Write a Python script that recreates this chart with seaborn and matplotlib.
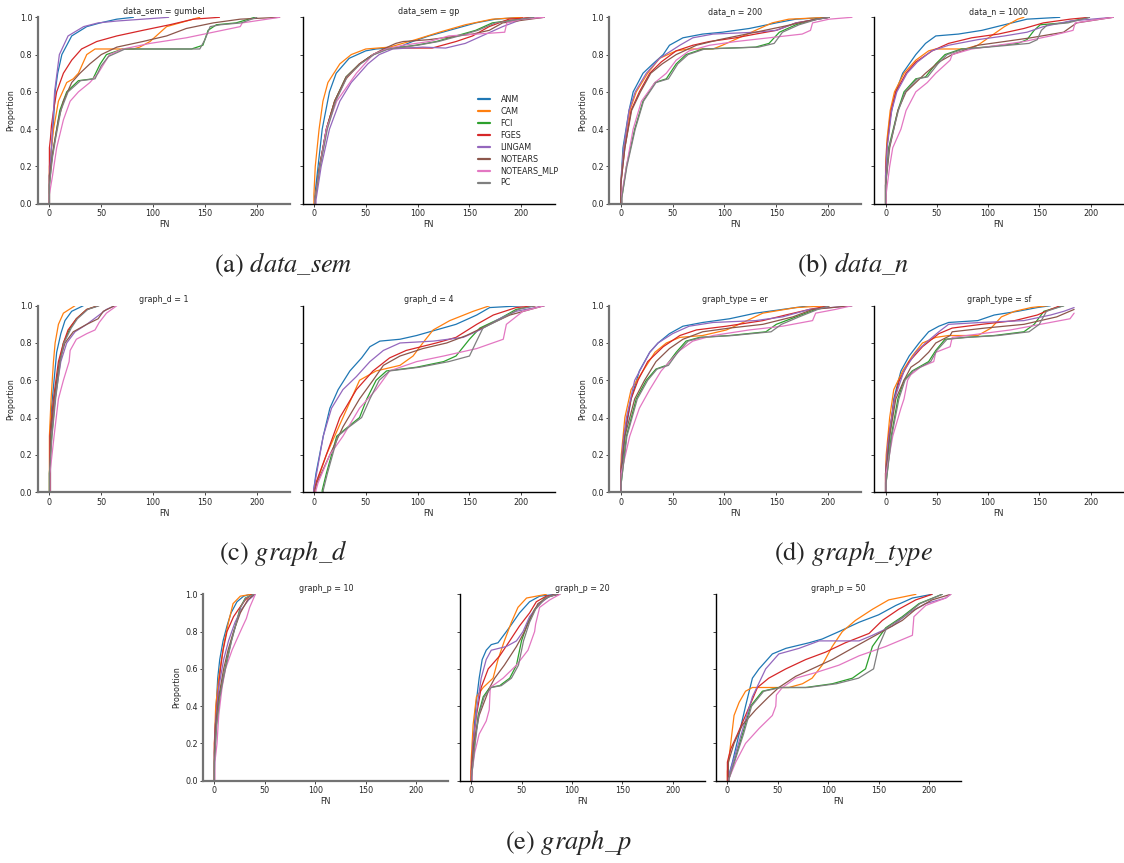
import pandas as pd
import seaborn as sns
import matplotlib.pyplot as plt
from matplotlib.lines import Line2D

# Metodos y colores (orden de la leyenda)
METHODS = ["ANM", "CAM", "FCI", "FGES", "LINGAM", "NOTEARS", "NOTEARS_MLP", "PC"]
X_TICKS = [0, 50, 100, 150, 200]
Y_TICKS = [0.0, 0.2, 0.4, 0.6, 0.8, 1.0]

# Curvas ECDF: metodo -> (FN, proporcion)
data_sem_gumbel = {
    "ANM": ([0, 0, 2, 4, 5.5, 8, 12, 21.5, 36, 49, 65, 81],
            [0, 0.15, 0.3, 0.45, 0.6, 0.7, 0.8, 0.9, 0.95, 0.97, 0.99, 1.0]),
    "CAM": ([0, 0, 2, 4, 8.7, 16.7, 23, 28, 36, 44, 81, 87, 97, 103, 113, 132, 145],
            [0, 0.2, 0.3, 0.4, 0.55, 0.65, 0.67, 0.7, 0.8, 0.83, 0.83, 0.84, 0.87, 0.9, 0.95, 0.98, 1.0]),
    "FCI": ([0, 0, 2.5, 5.5, 10, 16.7, 28, 42, 49, 55, 71, 137, 148, 153, 161, 180, 198],
            [0, 0.1, 0.25, 0.35, 0.5, 0.6, 0.66, 0.67, 0.75, 0.8, 0.83, 0.83, 0.85, 0.93, 0.96, 0.97, 1.0]),
    "FGES": ([0, 0, 1, 2, 4, 7, 13.5, 21.5, 31, 45.6, 65, 90, 116, 139, 164],
             [0, 0.3, 0.35, 0.42, 0.5, 0.6, 0.7, 0.77, 0.83, 0.87, 0.9, 0.93, 0.96, 0.99, 1.0]),
    "LINGAM": ([0, 0, 2, 4, 5, 9.6, 18, 33, 47, 65, 90, 115],
               [0, 0.15, 0.3, 0.5, 0.6, 0.8, 0.9, 0.95, 0.97, 0.98, 0.99, 1.0]),
    "NOTEARS": ([0, 0, 4, 8.7, 13.5, 21.5, 29.5, 39, 50, 65, 90, 113, 132, 158, 184, 222],
                [0, 0.15, 0.3, 0.45, 0.55, 0.65, 0.7, 0.75, 0.8, 0.84, 0.87, 0.9, 0.94, 0.97, 0.99, 1.0]),
    "NOTEARS_MLP": ([0, 0, 3, 7, 13.5, 20, 28, 39, 47, 58, 71, 97, 132, 158, 184, 186, 222],
                    [0, 0.05, 0.15, 0.3, 0.45, 0.55, 0.6, 0.65, 0.7, 0.8, 0.83, 0.86, 0.89, 0.92, 0.95, 0.97, 1.0]),
    "PC": ([0, 0, 3, 6, 11, 18, 30, 44, 50, 57, 73, 145, 150, 155, 165, 185, 200],
           [0, 0.1, 0.25, 0.35, 0.5, 0.6, 0.66, 0.67, 0.74, 0.79, 0.83, 0.83, 0.88, 0.95, 0.96, 0.97, 1.0]),
}

data_sem_gp = {
    "ANM": ([1, 1, 4, 8, 15, 21.5, 34, 50, 60, 82, 95, 111, 137, 156, 175, 201],
            [0, 0.05, 0.2, 0.4, 0.6, 0.7, 0.78, 0.82, 0.83, 0.84, 0.87, 0.9, 0.94, 0.97, 0.99, 1.0]),
    "CAM": ([0, 0, 1.3, 5, 8.7, 13.5, 25, 36, 50, 73, 98, 121, 146, 172, 201],
            [0, 0.05, 0.2, 0.4, 0.55, 0.65, 0.75, 0.8, 0.83, 0.84, 0.88, 0.92, 0.96, 0.99, 1.0]),
    "FCI": ([1, 1, 5.5, 12, 20, 31, 44, 57, 70, 98, 118, 137, 156, 172, 212],
            [0, 0.02, 0.2, 0.4, 0.55, 0.68, 0.75, 0.8, 0.83, 0.85, 0.87, 0.9, 0.93, 0.97, 1.0]),
    "FGES": ([1, 1, 5.5, 12, 20, 31, 44, 57, 70, 82, 114, 137, 153, 169, 188, 212],
             [0, 0.02, 0.2, 0.4, 0.55, 0.67, 0.75, 0.8, 0.83, 0.835, 0.835, 0.87, 0.9, 0.95, 0.99, 1.0]),
    "LINGAM": ([2, 2, 7, 15, 25, 36, 52, 63, 76, 105, 127, 146, 162, 182, 201, 222],
               [0, 0.02, 0.2, 0.4, 0.55, 0.65, 0.75, 0.8, 0.83, 0.84, 0.835, 0.86, 0.9, 0.95, 0.99, 1.0]),
    "NOTEARS": ([1, 1, 5.5, 12, 20, 31, 44, 57, 67, 79, 86, 111, 153, 169, 182, 222],
                [0, 0.02, 0.2, 0.4, 0.55, 0.68, 0.75, 0.8, 0.83, 0.86, 0.87, 0.88, 0.91, 0.93, 0.97, 1.0]),
    "NOTEARS_MLP": ([1, 1, 6, 12, 22, 41, 57, 70, 86, 111, 130, 184, 186, 201, 222],
                    [0, 0.02, 0.2, 0.4, 0.55, 0.7, 0.8, 0.83, 0.85, 0.87, 0.9, 0.92, 0.97, 0.99, 1.0]),
    "PC": ([1, 1, 6, 13, 21, 32, 45, 58, 72, 100, 120, 140, 158, 175, 212],
           [0, 0.02, 0.2, 0.4, 0.55, 0.68, 0.75, 0.8, 0.83, 0.85, 0.87, 0.9, 0.93, 0.97, 1.0]),
}

data_n_200 = {
    "ANM": ([0, 0, 2.2, 8, 12, 21.5, 31, 41, 47, 60, 79, 98, 124, 150, 169, 201],
            [0, 0.1, 0.3, 0.5, 0.6, 0.7, 0.75, 0.8, 0.85, 0.89, 0.91, 0.92, 0.94, 0.97, 0.99, 1.0]),
    "CAM": ([0, 0, 3, 8.7, 15, 26, 37.5, 53.5, 66, 89, 98, 114, 130, 146, 162, 201],
            [0, 0.1, 0.3, 0.5, 0.6, 0.7, 0.78, 0.82, 0.83, 0.83, 0.85, 0.89, 0.93, 0.97, 0.99, 1.0]),
    "FCI": ([1, 1, 5.5, 13.5, 21.5, 33, 44, 53.5, 63, 79, 130, 143, 153, 169, 188, 201],
            [0, 0.03, 0.2, 0.4, 0.55, 0.65, 0.67, 0.75, 0.8, 0.83, 0.84, 0.86, 0.92, 0.96, 0.99, 1.0]),
    "FGES": ([0, 0, 4, 10, 18, 28, 39, 53.5, 69.5, 85.6, 111, 130, 150, 169, 201],
             [0, 0.1, 0.3, 0.5, 0.6, 0.7, 0.76, 0.82, 0.85, 0.87, 0.89, 0.91, 0.93, 0.97, 1.0]),
    "LINGAM": ([0, 0, 3, 8, 14, 24.7, 37.5, 57, 69.5, 89, 130, 150, 169, 201],
               [0, 0.1, 0.3, 0.5, 0.6, 0.7, 0.78, 0.85, 0.89, 0.91, 0.92, 0.93, 0.97, 1.0]),
    "NOTEARS": ([0, 0, 4, 10.5, 19, 29, 40, 53.5, 73, 95, 130, 156, 188, 201],
                [0, 0.1, 0.3, 0.5, 0.6, 0.7, 0.75, 0.8, 0.85, 0.88, 0.92, 0.95, 0.99, 1.0]),
    "NOTEARS_MLP": ([1, 1, 5.5, 12, 20, 33, 44, 53.5, 66, 85.6, 111, 143, 175, 183, 185, 201, 223],
                    [0, 0.05, 0.2, 0.4, 0.55, 0.65, 0.7, 0.77, 0.82, 0.85, 0.87, 0.89, 0.91, 0.93, 0.97, 0.99, 1.0]),
    "PC": ([1, 1, 6, 14, 22, 34, 46, 55, 65, 81, 133, 148, 156, 172, 190, 201],
           [0, 0.03, 0.2, 0.4, 0.55, 0.65, 0.67, 0.75, 0.8, 0.83, 0.84, 0.86, 0.92, 0.96, 0.99, 1.0]),
}

data_n_1000 = {
    "ANM": ([0, 0, 1, 4, 10, 16.7, 29.5, 39, 49, 71, 94, 116, 138, 170],
            [0, 0.1, 0.3, 0.45, 0.6, 0.7, 0.8, 0.86, 0.9, 0.91, 0.93, 0.96, 0.99, 1.0]),
    "CAM": ([0, 0, 1.5, 4.5, 8.7, 18, 29.5, 42, 49, 77.5, 90, 103, 116, 129, 135],
            [0, 0.2, 0.35, 0.5, 0.6, 0.7, 0.77, 0.82, 0.83, 0.83, 0.85, 0.9, 0.95, 0.99, 1.0]),
    "FCI": ([0, 0, 3, 12, 18, 29.5, 39, 49, 58, 74, 97, 129, 138, 145, 151, 173.7, 199],
            [0, 0.1, 0.3, 0.5, 0.6, 0.67, 0.68, 0.75, 0.8, 0.83, 0.84, 0.86, 0.88, 0.93, 0.96, 0.97, 1.0]),
    "FGES": ([0, 0, 1.3, 5.5, 10, 20, 29.5, 45.5, 61.5, 84, 110, 135, 154, 180, 199],
             [0, 0.15, 0.3, 0.5, 0.6, 0.7, 0.76, 0.82, 0.86, 0.89, 0.91, 0.94, 0.97, 0.99, 1.0]),
    "LINGAM": ([0, 0, 1.5, 6, 11, 21, 31, 45, 61.5, 90, 116, 138, 154, 180, 222],
               [0, 0.15, 0.3, 0.5, 0.6, 0.7, 0.76, 0.82, 0.85, 0.88, 0.9, 0.92, 0.95, 0.98, 1.0]),
    "NOTEARS": ([0, 0, 4, 12, 20, 29.5, 39, 52, 65, 90, 116, 141.7, 173.7, 186.5, 222],
                [0, 0.1, 0.3, 0.5, 0.6, 0.65, 0.7, 0.76, 0.8, 0.85, 0.87, 0.89, 0.92, 0.97, 1.0]),
    "NOTEARS_MLP": ([0.5, 0.5, 4, 7, 15, 20, 29.5, 40.7, 49, 63, 65, 84, 110, 135, 161, 183, 185, 222],
                    [0, 0.05, 0.2, 0.3, 0.4, 0.5, 0.6, 0.65, 0.7, 0.77, 0.8, 0.83, 0.85, 0.87, 0.9, 0.93, 0.97, 1.0]),
    "PC": ([0, 0, 3.5, 12.5, 19, 31, 41, 51, 60, 76, 100, 140, 148, 152, 158, 178, 199],
           [0, 0.1, 0.3, 0.5, 0.6, 0.67, 0.68, 0.75, 0.8, 0.83, 0.84, 0.86, 0.88, 0.93, 0.96, 0.97, 1.0]),
}

graph_d_1 = {
    "ANM": ([0.5, 0.5, 2, 4.5, 7, 11, 15, 21.5, 32.7],
            [0, 0.3, 0.45, 0.6, 0.75, 0.85, 0.92, 0.97, 1.0]),
    "CAM": ([0, 0, 1.6, 3.9, 5.5, 8.7, 13.5, 24.7],
            [0, 0.3, 0.5, 0.7, 0.8, 0.9, 0.96, 1.0]),
    "FCI": ([0, 0, 2.2, 5.5, 10, 13.5, 20, 26, 36, 47],
            [0, 0.1, 0.3, 0.5, 0.7, 0.8, 0.88, 0.93, 0.98, 1.0]),
    "FGES": ([0.5, 0.5, 3.9, 8.7, 13.5, 18, 26, 36, 47],
             [0, 0.3, 0.5, 0.7, 0.8, 0.87, 0.93, 0.98, 1.0]),
    "LINGAM": ([1, 1, 5.5, 11, 16.7, 24.7, 36, 45.6, 55, 63],
               [0, 0.3, 0.5, 0.7, 0.8, 0.86, 0.9, 0.94, 0.98, 1.0]),
    "NOTEARS": ([1, 1, 4.5, 9.6, 15, 23, 36, 47, 52, 63],
                [0, 0.3, 0.5, 0.7, 0.8, 0.86, 0.9, 0.93, 0.97, 1.0]),
    "NOTEARS_MLP": ([0.5, 0.5, 4.5, 8.7, 13.5, 19, 20, 26, 36, 44, 48, 55, 65],
                    [0, 0.1, 0.3, 0.5, 0.6, 0.7, 0.76, 0.82, 0.85, 0.87, 0.91, 0.96, 1.0]),
    "PC": ([0, 0, 2.5, 6, 10.5, 14, 21, 27, 37, 48],
           [0, 0.1, 0.3, 0.5, 0.7, 0.8, 0.88, 0.93, 0.98, 1.0]),
}

graph_d_4 = {
    "ANM": ([0, 0, 2, 9, 15.4, 23.4, 34.7, 46, 54, 63.6, 83, 99, 118, 137, 157, 169.5, 201.6],
            [0, 0.02, 0.1, 0.3, 0.45, 0.55, 0.65, 0.72, 0.78, 0.81, 0.82, 0.84, 0.87, 0.9, 0.95, 0.99, 1.0]),
    "CAM": ([1, 1, 2.6, 12, 28, 44, 60, 83, 95.6, 105, 115, 131, 153.6, 169.5],
            [0, 0.01, 0.05, 0.2, 0.4, 0.6, 0.65, 0.68, 0.73, 0.8, 0.87, 0.92, 0.97, 1.0]),
    "FCI": ([8, 8, 12, 22, 33, 44, 51, 60, 70, 99, 125, 137, 150, 160, 179, 195, 213],
            [0, 0.01, 0.1, 0.3, 0.35, 0.4, 0.5, 0.6, 0.65, 0.67, 0.7, 0.73, 0.82, 0.88, 0.93, 0.98, 1.0]),
    "FGES": ([0, 0, 2, 12, 25, 41, 57, 73, 89, 118, 137, 157, 173, 195, 214],
             [0, 0.01, 0.05, 0.2, 0.4, 0.55, 0.65, 0.72, 0.76, 0.8, 0.83, 0.9, 0.95, 0.99, 1.0]),
    "LINGAM": ([0, 0, 2.6, 9, 17, 28, 41, 54, 67, 83, 115, 144, 160, 179, 195, 222.5],
               [0, 0.02, 0.1, 0.3, 0.45, 0.55, 0.62, 0.7, 0.76, 0.8, 0.81, 0.83, 0.87, 0.93, 0.97, 1.0]),
    "NOTEARS": ([1, 1, 3, 15.4, 28, 44, 57, 67, 83, 105, 128, 147, 169.5, 189, 222],
                [0, 0.01, 0.05, 0.2, 0.35, 0.5, 0.6, 0.68, 0.73, 0.77, 0.8, 0.84, 0.9, 0.95, 1.0]),
    "NOTEARS_MLP": ([2, 2, 4, 15.4, 28, 44, 60, 73, 99, 125, 157, 182.6, 185.6, 201.6, 222],
                    [0, 0.01, 0.05, 0.2, 0.3, 0.45, 0.55, 0.65, 0.7, 0.73, 0.77, 0.82, 0.9, 0.97, 1.0]),
    "PC": ([9, 9, 13, 23, 34, 46, 54, 63, 73, 102, 130, 150, 156, 163, 181, 197, 213],
           [0, 0.01, 0.1, 0.3, 0.35, 0.4, 0.5, 0.6, 0.65, 0.67, 0.7, 0.73, 0.8, 0.88, 0.93, 0.98, 1.0]),
}

graph_type_er = {
    "ANM": ([0, 0, 4, 10, 18, 28, 36, 47, 60, 79, 105, 130, 156, 182],
            [0, 0.05, 0.3, 0.5, 0.65, 0.75, 0.8, 0.85, 0.89, 0.91, 0.93, 0.96, 0.98, 1.0]),
    "CAM": ([0, 0, 0.6, 4, 10, 21.5, 33, 44, 57, 79, 102, 118, 137, 169, 201],
            [0, 0.1, 0.2, 0.4, 0.55, 0.65, 0.75, 0.8, 0.83, 0.84, 0.87, 0.91, 0.96, 0.99, 1.0]),
    "FCI": ([0.5, 0.5, 5.5, 15, 24.7, 34, 44, 53.5, 63, 76, 105, 140, 150, 169, 188, 201],
            [0, 0.05, 0.3, 0.5, 0.6, 0.66, 0.68, 0.75, 0.81, 0.83, 0.84, 0.86, 0.9, 0.94, 0.98, 1.0]),
    "FGES": ([0, 0, 3, 10, 16.7, 26, 41, 57, 73, 102, 137, 159, 182, 201],
             [0, 0.1, 0.3, 0.5, 0.6, 0.7, 0.78, 0.84, 0.87, 0.89, 0.92, 0.95, 0.98, 1.0]),
    "LINGAM": ([0, 0, 2, 5.5, 13.5, 28, 36, 50, 66, 89, 130, 156, 182, 223],
               [0, 0.1, 0.25, 0.4, 0.6, 0.75, 0.8, 0.85, 0.89, 0.91, 0.92, 0.94, 0.98, 1.0]),
    "NOTEARS": ([0, 0, 4, 13.5, 23, 34, 47, 60, 79, 105, 137, 166, 185, 223],
                [0, 0.1, 0.3, 0.5, 0.6, 0.7, 0.77, 0.82, 0.86, 0.88, 0.9, 0.94, 0.98, 1.0]),
    "NOTEARS_MLP": ([0.5, 0.5, 8.7, 18, 28, 39, 47, 57, 69.5, 89, 124, 156, 185, 188, 207, 223],
                    [0, 0.1, 0.3, 0.45, 0.55, 0.65, 0.7, 0.76, 0.81, 0.84, 0.87, 0.89, 0.92, 0.96, 0.98, 1.0]),
    "PC": ([0.5, 0.5, 6, 16, 26, 35, 46, 55, 65, 78, 108, 145, 155, 172, 190, 201],
           [0, 0.05, 0.3, 0.5, 0.6, 0.66, 0.68, 0.75, 0.81, 0.83, 0.84, 0.86, 0.9, 0.94, 0.98, 1.0]),
}

graph_type_sf = {
    "ANM": ([0, 0, 4, 8, 15, 23, 32.7, 42, 52, 61.5, 90, 106, 129, 148, 161],
            [0, 0.05, 0.3, 0.5, 0.65, 0.73, 0.8, 0.86, 0.89, 0.91, 0.92, 0.95, 0.97, 0.99, 1.0]),
    "CAM": ([0, 0, 0.6, 4, 8, 16.7, 26, 36, 49, 61.5, 90, 103, 113, 126, 142, 158],
            [0, 0.1, 0.2, 0.4, 0.55, 0.65, 0.73, 0.8, 0.83, 0.84, 0.84, 0.88, 0.94, 0.97, 0.99, 1.0]),
    "FCI": ([0.5, 0.5, 5.5, 12, 18, 26, 42, 49, 58, 77.5, 106, 135, 145, 154.5, 167, 174],
            [0, 0.05, 0.3, 0.5, 0.6, 0.65, 0.7, 0.76, 0.82, 0.83, 0.84, 0.86, 0.9, 0.97, 0.99, 1.0]),
    "FGES": ([0, 0, 3, 8.7, 13.5, 23, 36, 52, 65, 93.6, 126, 148, 161, 170.5],
             [0, 0.1, 0.3, 0.5, 0.6, 0.7, 0.78, 0.85, 0.88, 0.9, 0.92, 0.95, 0.98, 1.0]),
    "LINGAM": ([0, 0, 2, 8.7, 18, 29.5, 39, 52, 61.5, 93, 135, 161, 174, 184],
               [0, 0.1, 0.25, 0.5, 0.65, 0.75, 0.8, 0.86, 0.9, 0.91, 0.92, 0.95, 0.97, 0.99]),
    "NOTEARS": ([0, 0, 4, 10, 18, 24.7, 32.7, 42, 49, 63, 65, 97, 135, 167, 184],
                [0, 0.1, 0.3, 0.5, 0.6, 0.67, 0.7, 0.75, 0.8, 0.84, 0.86, 0.88, 0.9, 0.94, 0.98]),
    "NOTEARS_MLP": ([0.5, 0.5, 7, 15, 18, 21.5, 24.7, 34, 47, 49, 63, 65, 93.6, 122, 151, 180, 184],
                    [0, 0.1, 0.3, 0.45, 0.5, 0.6, 0.63, 0.67, 0.7, 0.75, 0.78, 0.83, 0.85, 0.87, 0.9, 0.93, 0.96]),
    "PC": ([0.5, 0.5, 6, 13, 19, 27, 44, 50, 60, 80, 110, 140, 150, 157, 168, 174],
           [0, 0.05, 0.3, 0.5, 0.6, 0.65, 0.7, 0.76, 0.82, 0.83, 0.84, 0.86, 0.9, 0.97, 0.99, 1.0]),
}

graph_p_10 = {
    "ANM": ([0, 0, 1.3, 3.3, 5.3, 8.6, 12.5, 16.5, 22.4, 29, 35.6],
            [0, 0.05, 0.35, 0.55, 0.65, 0.75, 0.83, 0.9, 0.96, 0.99, 1.0]),
    "CAM": ([0, 0, 1.3, 4.3, 7, 10, 14, 18.5, 25.7, 37],
            [0, 0.2, 0.4, 0.55, 0.65, 0.75, 0.85, 0.95, 0.99, 1.0]),
    "FCI": ([0, 0, 2, 5, 8.6, 12.5, 16.8, 21.8, 25.7, 30.7, 39],
            [0, 0.1, 0.3, 0.45, 0.55, 0.65, 0.75, 0.85, 0.93, 0.98, 1.0]),
    "FGES": ([0, 0, 1, 3.3, 6, 8.6, 12.5, 19, 24, 30.7, 37],
             [0, 0.2, 0.3, 0.45, 0.6, 0.7, 0.8, 0.88, 0.92, 0.97, 1.0]),
    "LINGAM": ([0, 0, 1, 4.3, 9.2, 14, 20.5, 27, 34, 40.6],
               [0, 0.15, 0.3, 0.5, 0.65, 0.75, 0.85, 0.92, 0.97, 1.0]),
    "NOTEARS": ([0, 0, 1.3, 4.3, 9.2, 13.5, 19, 25.7, 33, 39.5],
                [0, 0.15, 0.3, 0.45, 0.6, 0.7, 0.8, 0.9, 0.97, 1.0]),
    "NOTEARS_MLP": ([0.5, 0.5, 2.6, 4.3, 7.6, 11, 17.5, 22.4, 27.4, 31.7, 35, 40.6],
                    [0, 0.1, 0.2, 0.35, 0.5, 0.6, 0.7, 0.76, 0.82, 0.87, 0.93, 1.0]),
    "PC": ([0, 0, 2.3, 5.5, 9, 13, 17, 22, 26, 31, 39],
           [0, 0.1, 0.3, 0.45, 0.55, 0.65, 0.75, 0.85, 0.93, 0.98, 1.0]),
}

graph_p_20 = {
    "ANM": ([0.5, 0.5, 2, 4.6, 8, 11, 15, 20, 26.7, 35, 41.6, 48, 58, 68, 84.5],
            [0, 0.02, 0.2, 0.4, 0.55, 0.65, 0.7, 0.73, 0.74, 0.8, 0.85, 0.9, 0.96, 0.99, 1.0]),
    "CAM": ([0, 0, 2, 5.3, 12, 21.8, 26.7, 33, 40, 46.5, 55, 74.6],
            [0, 0.1, 0.3, 0.45, 0.5, 0.55, 0.65, 0.75, 0.85, 0.93, 0.98, 1.0]),
    "FCI": ([0.5, 0.5, 3.6, 7, 12, 18.5, 28.4, 38.3, 45, 50, 56.4, 63, 73, 84.5],
            [0, 0.02, 0.2, 0.35, 0.45, 0.5, 0.51, 0.55, 0.62, 0.75, 0.85, 0.92, 0.98, 1.0]),
    "FGES": ([0, 0, 2, 5.3, 10, 17, 28.4, 38.3, 48, 58, 64.7, 74.6, 86],
             [0, 0.05, 0.2, 0.35, 0.5, 0.6, 0.67, 0.75, 0.83, 0.9, 0.96, 0.99, 1.0]),
    "LINGAM": ([0.5, 0.5, 2, 6, 10, 15, 20, 35, 45, 51.5, 58, 68, 78, 88],
               [0, 0.02, 0.2, 0.4, 0.55, 0.65, 0.7, 0.72, 0.75, 0.8, 0.88, 0.95, 0.99, 1.0]),
    "NOTEARS": ([0.5, 0.5, 2.6, 8, 15, 18.5, 23.4, 33, 45, 53, 59.7, 66.3, 78, 88],
                [0, 0.05, 0.2, 0.35, 0.45, 0.5, 0.55, 0.62, 0.72, 0.8, 0.88, 0.95, 0.99, 1.0]),
    "NOTEARS_MLP": ([1, 1, 3.6, 8, 15, 18, 19, 31.7, 45, 56.4, 63, 64, 68, 78, 88],
                    [0, 0.05, 0.15, 0.25, 0.32, 0.38, 0.5, 0.55, 0.62, 0.7, 0.8, 0.84, 0.93, 0.97, 1.0]),
    "PC": ([0.5, 0.5, 4, 7.5, 13, 20, 30, 40, 47, 52, 58, 64, 74, 85],
           [0, 0.02, 0.2, 0.35, 0.45, 0.5, 0.51, 0.55, 0.62, 0.75, 0.85, 0.92, 0.98, 1.0]),
}

graph_p_50 = {
    "ANM": ([1, 1, 5, 11.6, 18, 24.8, 31.4, 44.6, 58, 81, 94, 110.7, 130.6, 150, 167, 183.5, 203],
            [0, 0.02, 0.1, 0.25, 0.4, 0.55, 0.6, 0.68, 0.71, 0.74, 0.76, 0.8, 0.85, 0.89, 0.94, 0.98, 1.0]),
    "CAM": ([0, 0, 3.3, 6.6, 11.6, 18, 24.8, 61, 74.4, 84, 94, 104, 114, 127, 144, 160, 187],
            [0, 0.05, 0.2, 0.35, 0.42, 0.48, 0.5, 0.5, 0.52, 0.55, 0.62, 0.72, 0.8, 0.86, 0.92, 0.97, 1.0]),
    "FCI": ([1.5, 1.5, 6.6, 15, 23, 34.7, 51, 77.7, 104, 124, 137, 143.8, 157, 173.5, 190, 213],
            [0, 0.01, 0.1, 0.25, 0.4, 0.48, 0.5, 0.5, 0.52, 0.55, 0.6, 0.72, 0.82, 0.88, 0.95, 1.0]),
    "FGES": ([0, 0, 3.3, 10, 18, 29.8, 41, 58, 77.7, 97.5, 117, 140.5, 153.7, 170, 186.8, 203],
             [0, 0.1, 0.17, 0.25, 0.35, 0.5, 0.55, 0.6, 0.65, 0.69, 0.74, 0.79, 0.86, 0.92, 0.97, 1.0]),
    "LINGAM": ([1, 1, 8.3, 16.5, 24.8, 38, 51, 71, 91, 130.6, 143.8, 163.6, 180, 196.7, 216.5, 221.5],
               [0, 0.02, 0.15, 0.3, 0.45, 0.6, 0.68, 0.71, 0.75, 0.75, 0.78, 0.83, 0.9, 0.95, 0.98, 1.0]),
    "NOTEARS": ([1, 1, 6.6, 15, 28, 41, 51, 67.8, 84, 104, 127, 153.7, 173.5, 186.8, 203, 221.5],
                [0, 0.1, 0.2, 0.3, 0.38, 0.45, 0.5, 0.56, 0.6, 0.65, 0.72, 0.8, 0.86, 0.92, 0.97, 1.0]),
    "NOTEARS_MLP": ([1.5, 1.5, 8.3, 18, 31.4, 44.6, 48, 48.6, 54.5, 67.8, 87.6, 110.7, 130.6, 157, 183.5, 185, 196.7, 216.5, 221.5],
                    [0, 0.01, 0.1, 0.2, 0.28, 0.35, 0.4, 0.46, 0.5, 0.55, 0.58, 0.62, 0.67, 0.72, 0.78, 0.88, 0.94, 0.98, 1.0]),
    "PC": ([1.5, 1.5, 7, 16, 24, 36, 53, 80, 108, 130, 145, 150, 158, 175, 191, 213],
           [0, 0.01, 0.1, 0.25, 0.4, 0.48, 0.5, 0.5, 0.52, 0.55, 0.6, 0.72, 0.82, 0.88, 0.95, 1.0]),
}

W, H = 1124, 863
FS = 5.8


def aFrame(curvas):
    filas = []
    for m in METHODS:
        xs, ys = curvas[m]
        for x, y in zip(xs, ys):
            filas.append((m, x, y))
    return pd.DataFrame(filas, columns=["metodo", "FN", "Proportion"])


def ejes(fig, left, top, width, height):
    return fig.add_axes([left / W, 1 - (top + height) / H, width / W, height / H])


def panel(fig, curvas, titulo, left, top, width, primero):
    ax = ejes(fig, left, top, width, 186.4)
    df = aFrame(curvas)
    sns.lineplot(data=df, x="FN", y="Proportion", hue="metodo", hue_order=METHODS,
                 palette=paleta, estimator=None, sort=False, linewidth=0.9,
                 legend=False, ax=ax)
    ax.set_xlim(-11, 232)
    ax.set_ylim(0, 1)
    ax.set_xticks(X_TICKS)
    ax.set_yticks(Y_TICKS)
    ax.set_title(titulo, fontsize=FS, pad=2.5)
    ax.set_xlabel("FN", fontsize=FS, labelpad=1.5)
    sns.despine(ax=ax)
    ax.tick_params(labelsize=FS, length=2.5, width=0.6, pad=1.5)
    if primero:
        ax.set_ylabel("Proportion", fontsize=FS, labelpad=3)
        for s in ["left", "bottom"]:
            ax.spines[s].set_color("0.45")
            ax.spines[s].set_linewidth(1.6)
    else:
        ax.set_ylabel("")
        ax.tick_params(axis="y", labelleft=False)
        for s in ["left", "bottom"]:
            ax.spines[s].set_color("black")
            ax.spines[s].set_linewidth(1.0)
    return ax


sns.set_style("ticks")
plt.rcParams["font.family"] = ["DejaVu Sans"]
plt.rcParams["mathtext.fontset"] = "stix"
paleta = dict(zip(METHODS, sns.color_palette("tab10", 8)))

fig = plt.figure(figsize=(W / 100, H / 100), dpi=100)

col_izq = [38, 302.5, 609.3, 874.3]
anchos = [252, 252, 252, 249]
fila1 = [(data_sem_gumbel, "data_sem = gumbel"), (data_sem_gp, "data_sem = gp"),
         (data_n_200, "data_n = 200"), (data_n_1000, "data_n = 1000")]
fila2 = [(graph_d_1, "graph_d = 1"), (graph_d_4, "graph_d = 4"),
         (graph_type_er, "graph_type = er"), (graph_type_sf, "graph_type = sf")]
fila3 = [(graph_p_10, "graph_p = 10"), (graph_p_20, "graph_p = 20"),
         (graph_p_50, "graph_p = 50")]

for i, (c, t) in enumerate(fila1):
    panel(fig, c, t, col_izq[i], 17.3, anchos[i], i % 2 == 0)
for i, (c, t) in enumerate(fila2):
    panel(fig, c, t, col_izq[i], 305.7, anchos[i], i % 2 == 0)
for i, (c, t) in enumerate(fila3):
    panel(fig, c, t, [203.3, 460, 716.3][i], 594.3, 245, i == 0)

# Leyenda dentro del panel data_sem = gp
handles = [Line2D([0], [0], color=paleta[m], lw=1.6) for m in METHODS]
fig.legend(handles, METHODS, loc="upper left", bbox_to_anchor=(474 / W, 1 - 91 / H),
           frameon=False, fontsize=FS, borderpad=0, labelspacing=0.36,
           handlelength=1.5, handletextpad=1.3)

# Subtitulos de cada grupo
subtitulos = [(283, 265, r"(a) $\mathit{data\_sem}$"), (853, 265, r"(b) $\mathit{data\_n}$"),
              (283, 553, r"(c) $\mathit{graph\_d}$"), (853, 553, r"(d) $\mathit{graph\_type}$"),
              (568, 842, r"(e) $\mathit{graph\_p}$")]
for x, y, s in subtitulos:
    fig.text(x / W, 1 - y / H, s, fontsize=19, family="STIXGeneral",
             ha="center", va="center")

plt.savefig("out.png", dpi=100)
plt.clf()
plt.close()
